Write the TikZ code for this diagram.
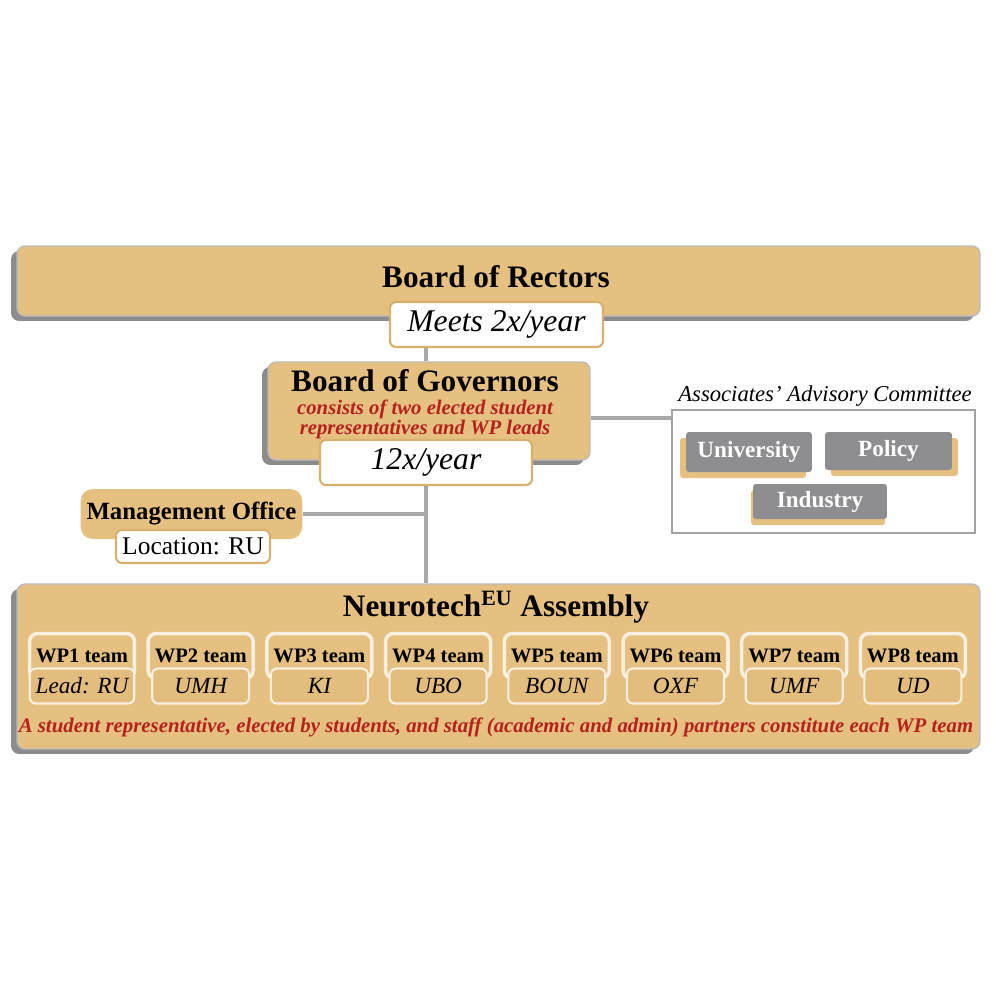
\documentclass[tikz,border=0pt]{standalone}
\usepackage{fontspec}
\setmainfont{Liberation Serif}
\usetikzlibrary{shadows}
\definecolor{tanfill}{HTML}{E5C080}
\definecolor{tanedge}{HTML}{D6B06C}
\definecolor{panelgray}{HTML}{8C8C8C}
\definecolor{linkgray}{HTML}{A8A8A8}
\definecolor{membergray}{HTML}{8E8E90}
\definecolor{cream}{HTML}{F7EFDF}
\definecolor{notered}{HTML}{B3221E}

\begin{document}
\begin{tikzpicture}[x=0.02cm, y=-0.02cm,
  panel/.style={fill=tanfill, draw=panelgray!60, line width=0.8pt, rounded corners=0.16cm,
                drop shadow={fill=panelgray, opacity=1, shadow xshift=-0.12cm, shadow yshift=-0.1cm}},
  freq/.style={fill=white, draw=tanedge, line width=1.2pt, rounded corners=0.12cm,
               minimum width=4.24cm, minimum height=0.9cm, font=\fontsize{18}{20}\selectfont\itshape},
  member/.style={fill=membergray, rounded corners=0.06cm, text=white,
                 font=\fontsize{13.2}{15}\selectfont\bfseries,
                 drop shadow={fill=tanfill, opacity=1, shadow xshift=#1, shadow yshift=-0.12cm}},
  member/.default=-0.12cm,
  teambox/.style={fill=tanfill, draw=cream, line width=2pt, rounded corners=0.16cm,
                  minimum width=2.1cm, minimum height=0.9cm, font=\fontsize{11.7}{13}\selectfont\bfseries},
  leadbox/.style={fill=tanfill!95!brown, draw=cream, line width=1.2pt, rounded corners=0.12cm,
                  minimum width=1.94cm, minimum height=0.7cm, font=\fontsize{13.2}{15}\selectfont\itshape},
  link/.style={draw=linkgray, line width=2pt},
  title/.style={inner sep=0pt, font=\fontsize{17.8}{20}\selectfont\bfseries}
]
  \useasboundingbox (0,0) rectangle (994,994);
  % Rectors
  \node[panel, minimum width=19.26cm, minimum height=1.4cm] (rectors) at (498.5,281) {};
  \node[title] (rectorstitle) at (496,277) {Board of Rectors};
  \node[freq, minimum width=4.26cm] (meets) at (496.5,324.5) {Meets 2x/year};
  % Governors
  \node[panel, minimum width=6.44cm, minimum height=1.96cm] (governors) at (429,411) {};
  \node[title] (govtitle) at (425,381) {Board of Governors};
  \node[align=center, inner sep=0pt, text=notered, font=\fontsize{11.8}{11.4}\selectfont\bfseries\itshape]
       (govnote) at (425,419) {consists of two elected student\\representatives and WP leads};
  \node[freq] (twelve) at (426,462.5) {12x/year};
  % Advisory committee
  \node[fill=white, draw=panelgray!80, line width=1.2pt, minimum width=6.06cm, minimum height=2.46cm]
       (advisory) at (823.5,471.5) {};
  \node[font=\fontsize{12.9}{15}\selectfont\itshape] (advisorylabel) at (825,396) {Associates’ Advisory Committee};
  \node[member, minimum width=2.52cm, minimum height=0.8cm] (university) at (749,452) {University};
  \node[member=0.12cm, minimum width=2.54cm, minimum height=0.76cm] (policy) at (888.5,451) {Policy};
  \node[member=-0.04cm, minimum width=2.68cm, minimum height=0.7cm] (industry) at (820,501.5) {Industry};
  % Management office
  \node[fill=tanfill, rounded corners=0.24cm, minimum width=4.34cm, minimum height=1.0cm,
        font=\fontsize{14.1}{16}\selectfont\bfseries] (mgmt) at (191.5,514) {Management Office};
  \node[fill=white, draw=tanedge, line width=1.2pt, rounded corners=0.12cm, minimum width=3.08cm,
        minimum height=0.66cm, font=\fontsize{14.5}{16}\selectfont] (location) at (193,546.5) {Location: RU};
  % Assembly
  \node[panel, minimum width=19.26cm, minimum height=3.3cm] (assembly) at (498.5,666.5) {};
  \node[title] (asmtitle) at (496,607) {Neurotech\textsuperscript{EU} Assembly};
  \foreach \lead [count=\i] in {Lead: RU, UMH, KI, UBO, BOUN, OXF, UMF, UD} {
    \pgfmathsetmacro\x{82+118.7*(\i-1)}
    \node[teambox] (wp\i) at (\x,656) {WP\i\ team};
    \node[leadbox] (wp\i lead) at (\x,686) {\lead};
  }
  \node[text=notered, font=\fontsize{11.85}{13}\selectfont\bfseries\itshape] (asmnote) at (496,727)
       {A student representative, elected by students, and staff (academic and admin) partners constitute each WP team};

  \draw[link] (meets.south -| twelve) -- (governors.north -| twelve);
  \draw[link] ([yshift=-0.14cm]governors.east) -- ([yshift=-0.14cm]governors.east -| advisory.west);
  \draw[link] (twelve.south) -- (twelve.south |- assembly.north);
  \draw[link] (mgmt.east) -- (mgmt.east -| twelve);
\end{tikzpicture}
\end{document}
